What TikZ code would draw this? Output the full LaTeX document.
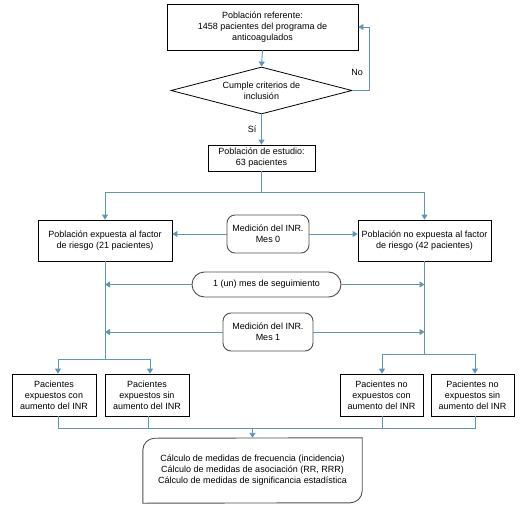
\documentclass[tikz,border=0pt]{standalone}
\usepackage{fontspec}
\setmainfont{Liberation Sans}
\usetikzlibrary{shapes.geometric,arrows.meta}
\definecolor{lnk}{HTML}{6096B4}
\definecolor{rbord}{HTML}{505050}
\begin{document}
\begin{tikzpicture}[x=1pt,y=-1pt,
  every node/.style={font=\fontsize{9}{11}\selectfont,align=center,inner sep=0pt},
  sqbox/.style={draw=black,line width=0.8pt,rectangle},
  rbox/.style={draw=rbord,line width=0.9pt,rectangle,rounded corners=8pt},
  lk/.style={draw=lnk,line width=0.9pt},
  ar/.style={lk,-{Triangle[width=6pt,length=5pt]}}]
\useasboundingbox (0,0) rectangle (521,508);
\node[sqbox,minimum width=191,minimum height=46] (top) at (262.5,27) {Población referente:\\1458 pacientes del programa de\\anticoagulados};
\node[draw=black,line width=0.8pt,diamond,aspect=3.85,minimum width=181,minimum height=47] (dia) at (261.5,90.5) {Cumple criterios de\\inclusión};
\node[sqbox,minimum width=107,minimum height=26] (study) at (261.5,158) {Población de estudio:\\63 pacientes};
\node[sqbox,minimum width=134,minimum height=41] (left) at (105,240.5) {Población expuesta al factor\\de riesgo (21 pacientes)};
\node[sqbox,minimum width=133,minimum height=41] (right) at (424.5,240.5) {Población no expuesta al factor\\de riesgo (42 pacientes)};
\node[rbox,minimum width=82,minimum height=38] (mes0) at (268,234) {Medición del INR.\\Mes 0};
\node[draw=rbord,line width=0.9pt,rectangle,rounded corners=12.5pt,minimum width=149,minimum height=25] (seg) at (266.5,284.5) {1 (un) mes de seguimiento};
\node[rbox,minimum width=90,minimum height=38] (mes1) at (268,332) {Medición del INR.\\Mes 1};
\node[sqbox,minimum width=84,minimum height=42] (b1) at (54,395) {Pacientes\\expuestos con\\aumento del INR};
\node[sqbox,minimum width=84,minimum height=42] (b2) at (147,395) {Pacientes\\expuestos sin\\aumento del INR};
\node[sqbox,minimum width=83,minimum height=42] (b3) at (381.5,395) {Pacientes no\\expuestos con\\aumento del INR};
\node[sqbox,minimum width=83,minimum height=42] (b4) at (472.5,395) {Pacientes no\\expuestos sin\\aumento del INR};
\node[minimum width=219,minimum height=65] (calc) at (252.5,470.5) {Cálculo de medidas de frecuencia (incidencia)\\Cálculo de medidas de asociación (RR, RRR)\\Cálculo de medidas de significancia estadística};
\draw[draw=rbord,line width=0.9pt] (calc.south west) -- ++(0,-53) .. controls ++(0,-6.6) and ++(-6.6,0) .. ++(12,-12) -- (calc.north east) -- ++(0,53) .. controls ++(0,6.6) and ++(6.6,0) .. ++(-12,12) -- cycle;
% connectors
\draw[ar] (top.south) -- (dia.north);
\coordinate (noc) at (369,90.5);
\draw[ar] (dia.east) -- (noc) -- (noc |- top.east) -- (top.east);
\node at (357,72) {No};
\draw[ar] (dia.south) -- (study.north);
\node at (252,129) {Sí};
\coordinate (sp) at (261.5,192);
\draw[lk] (study.south) -- (sp);
\draw[ar] (sp) -- (sp -| left.north) -- (left.north);
\draw[ar] (sp) -- (sp -| right.north) -- (right.north);
\draw[ar] (mes0.west) -- (left.east |- mes0.west);
\draw[ar] (mes0.east) -- (right.west |- mes0.east);
\coordinate (lsp) at (105,359);
\coordinate (rsp) at (424.5,354);
\draw[lk] (left.south) -- (lsp);
\draw[lk] (right.south) -- (rsp);
\draw[ar] (seg.west) -- (seg.west -| left.south);
\draw[ar] (seg.east) -- (seg.east -| right.south);
\draw[ar] (mes1.west) -- (mes1.west -| left.south);
\draw[ar] (mes1.east) -- (mes1.east -| right.south);
\draw[ar] (lsp) -- (58,359) -- (58,359 |- b1.north);
\draw[ar] (lsp) -- (150,359) -- (150,359 |- b2.north);
\draw[ar] (rsp) -- (382,354) -- (382,354 |- b3.north);
\draw[ar] (rsp) -- (475,354) -- (475,354 |- b4.north);
\coordinate (bj) at (252.5,428);
\draw[lk] (58,428 |- b1.south) -- (58,428) -- (475,428) -- (475,428 |- b4.south);
\draw[lk] (148,428 |- b2.south) -- (148,428);
\draw[lk] (382,428 |- b3.south) -- (382,428);
\draw[ar] (bj) -- (calc.north);
\end{tikzpicture}
\end{document}
